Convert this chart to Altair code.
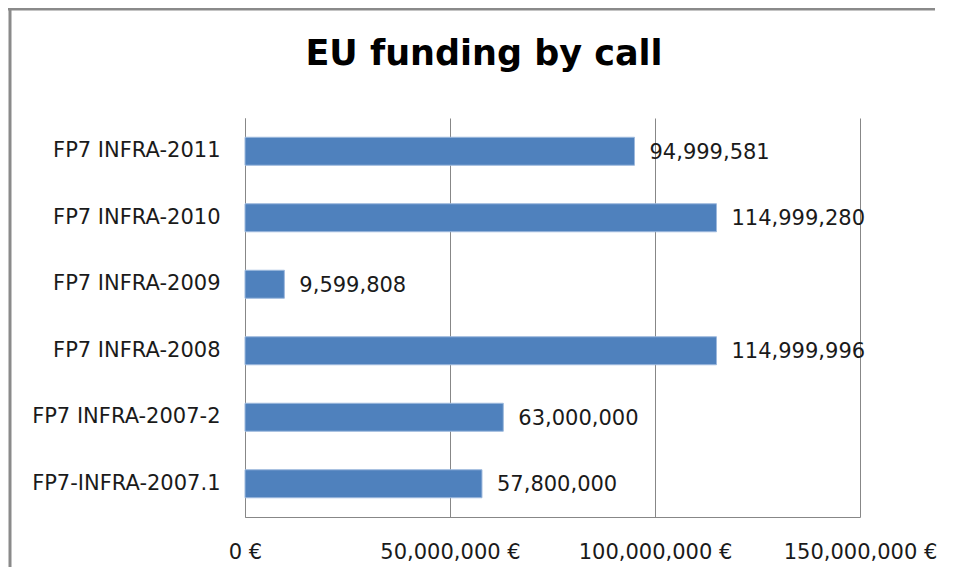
import altair as alt
import pandas as pd

calls = ["FP7 INFRA-2011", "FP7 INFRA-2010", "FP7 INFRA-2009",
         "FP7 INFRA-2008", "FP7 INFRA-2007-2", "FP7-INFRA-2007.1"]
funding = [94999581, 114999280, 9599808, 114999996, 63000000, 57800000]
labels = ["94,999,581", "114,999,280", "9,599,808", "114,999,996", "63,000,000", "57,800,000"]
x_ticks = [0, 50000000, 100000000, 150000000]
title_text = "EU funding by call"

df = pd.DataFrame({"call": calls, "funding": funding, "label": labels})

FONT = "DejaVu Sans"
GRAY = "#878787"
FS = 21

y_enc = alt.Y("call:N", sort=calls,
              scale=alt.Scale(paddingInner=0, paddingOuter=0),
              axis=alt.Axis(title=None, ticks=False, labelFontSize=FS, labelFont=FONT,
                            labelColor="#1a1a1a", labelPadding=25, domainColor=GRAY,
                            domainWidth=1, grid=False, labelLimit=400))
x_enc = alt.X("funding:Q", scale=alt.Scale(domain=[0, 150000000], nice=False),
              axis=alt.Axis(title=None, values=x_ticks, ticks=False, labelFontSize=FS,
                            labelFont=FONT, labelColor="#1a1a1a", labelPadding=24,
                            labelExpr="format(datum.value, ',') + ' €'",
                            gridColor=GRAY, gridWidth=1, domainColor=GRAY,
                            labelFlush=False))

base = alt.Chart(df)
bars = base.mark_bar(size=28, color="#4F81BD", stroke="#9DB9DD", strokeWidth=1).encode(x=x_enc, y=y_enc)
texts = base.mark_text(align="left", baseline="middle", dx=15, dy=1.5, fontSize=FS, font=FONT,
                       color="#1a1a1a").encode(x="funding:Q", y=alt.Y("call:N", sort=calls), text="label:N")

title = alt.Chart(pd.DataFrame({"t": [title_text]})).mark_text(
    fontSize=35, font=FONT, fontWeight="bold", color="#000000", align="center", baseline="middle"
).encode(x=alt.value(239), y=alt.value(-64), text="t:N")

frame_v = alt.Chart(pd.DataFrame({"a": [0]})).mark_rule(color="#8a8a8a", strokeWidth=3).encode(
    x=alt.value(-235), y=alt.value(-110), y2=alt.value(449))
frame_h = alt.Chart(pd.DataFrame({"a": [0]})).mark_rule(color="#8a8a8a", strokeWidth=3).encode(
    y=alt.value(-109), x=alt.value(-237), x2=alt.value(690))

chart = alt.layer(bars, texts, title, frame_v, frame_h).properties(
    width=615, height=399,
    autosize=alt.AutoSizeParams(type="none"),
    padding={"left": 237, "top": 110, "right": 88, "bottom": 50},
).configure_view(stroke=None)

chart.save("out.html", embed_options={"renderer": "svg", "actions": False})
